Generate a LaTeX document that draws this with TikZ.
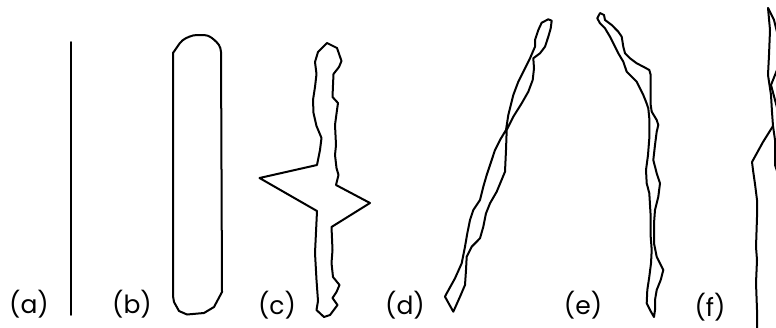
\documentclass[tikz,border=0pt]{standalone}
\usepackage{fontspec}
\setsansfont{Poppins}
\usetikzlibrary{positioning}
\tikzset{
  korv/.style={line width=1pt,line join=round,line cap=round},
  jel/.style={font=\sffamily\fontsize{12.5}{15}\selectfont,inner sep=0pt},
}

\begin{document}
\begin{tikzpicture}[x=0.5pt,y=-0.5pt]
  \clip (0,0) rectangle (776,327);
  % feliratok
  \node[jel] (la) at (29,304) {(a)};
  \node[jel] (lb) at (132,304) {(b)};
  \node[jel] (lc) at (277,305) {(c)};
  \node[jel] (ld) at (405,305) {(d)};
  \node[jel] (le) at (583,305) {(e)};
  \node[jel] (lf) at (710,307) {(f)};
  % (a)
  \draw[korv,line width=0.8pt] (71,42) -- (71,315);
  % (b)
  \draw[korv,rounded corners=2pt] (173,53) -- (182,40) -- (193,35) -- (208,35) -- (217,42) -- (221,48)
    -- (222,292);
  \draw[korv] (222,292) -- (214,307) -- (204,313) -- (187,314.5) -- (179,311) -- (174,302)
    -- (173,296) -- (173,53);
  % (c)
  \draw[korv] (327,43) -- (337,48) -- (341.5,61) -- (339,67) -- (333.5,74) -- (333,85) -- (332.5,97)
    -- (338,103) -- (337,110) -- (335,125) -- (336,145) -- (335,155) -- (336.5,168) -- (338.5,175)
    -- (336,185) -- (370,203) -- (331.5,227) -- (332.5,250) -- (331.5,263) -- (333,277)
    -- (339.5,285) -- (336.5,292) -- (332.5,298) -- (337.5,305) -- (330,315) -- (324,317)
    -- (316.5,310) -- (318,301) -- (316.5,280) -- (315,253) -- (317,211) -- (259.5,178)
    -- (317,165) -- (320,150) -- (321.5,138) -- (316.5,126) -- (313.5,113) -- (313,100)
    -- (315,87) -- (316.5,74) -- (315,62) -- (318,52) -- cycle;
  % (d)
  \draw[korv] (548.3,19.3) -- (541.7,22.7) -- (538.3,30) -- (535,40) -- (535,46.7) -- (530,58.3)
    -- (525,68.3) -- (518.3,81.7) -- (513.3,95) -- (508.3,115) -- (506,130) -- (500,140)
    -- (495,150) -- (491.7,160) -- (486.7,175) -- (483.3,186.7) -- (480,200) -- (473.3,210)
    -- (470,220) -- (467.3,233.3) -- (465,246.7) -- (461.7,263.3) -- (455,278.3) -- (446.7,293.3)
    -- (445,296.7) -- (453.3,311.7) -- (460,296.7) -- (465,285) -- (466,270) -- (466.7,256.7)
    -- (471.7,246.7) -- (480,238.3) -- (483.3,226.7) -- (486,213.3) -- (490,203.3) -- (496.7,191.7)
    -- (505,171.7) -- (506,150) -- (506.7,130) -- (513.3,116.7) -- (521.7,103.3) -- (528.3,91.7)
    -- (532.7,80) -- (534,68.3) -- (533.3,58.3) -- (540,53.3) -- (545,46.7) -- (548.3,36.7)
    -- (550.7,28.3) -- (551.7,20.7) -- cycle;
  % (e)
  \draw[korv] (600,13) -- (604,15) -- (605,20) -- (611.7,25) -- (618.3,31.7) -- (621.7,36.7)
    -- (623.3,46.7) -- (625,53.3) -- (630,58.3) -- (636.7,63.3) -- (643.3,66.7) -- (649.3,70)
    -- (650.7,75) -- (650.7,91.7) -- (650.7,105) -- (651.7,111.7) -- (656.7,120) -- (658.3,125)
    -- (656.7,131.7) -- (655,145) -- (653.3,160) -- (656.7,173.3) -- (660,183.3) -- (658.3,196.7)
    -- (655,210) -- (654,223.3) -- (654,243.3) -- (656.7,256.7) -- (660,263.3) -- (663.3,270)
    -- (660.7,280) -- (656.7,290) -- (655,300) -- (655,310) -- (654,317) -- (650,310)
    -- (646.7,303.3) -- (647.3,290) -- (649.3,276.7) -- (651,263.3) -- (651.7,250) -- (650.7,236.7)
    -- (650.7,216.7) -- (649.3,193.3) -- (646.7,183.3) -- (646,170) -- (648,155) -- (649.3,138.3)
    -- (649.3,118.3) -- (648.3,108.3) -- (646,101.7) -- (643.3,95) -- (640,88.3) -- (636.7,81.7)
    -- (631.7,76.7) -- (626.7,71.7) -- (623.3,61.7) -- (618.3,53.3) -- (615,46.7) -- (610,36.7)
    -- (605,28.3) -- (600,23.3) -- (597.3,18.3) -- cycle;
  % (f), a kep szelen levagva
  \draw[korv] (768,8) -- (770,30) -- (769,55) -- (768,75) -- (771,95) -- (772,112) -- (773,126)
    -- (763,142) -- (752,162) -- (753,170) -- (755,184) -- (757,200) -- (757,217) -- (756,247)
    -- (757,260) -- (756,283) -- (757,310) -- (757,335);
  \draw[korv] (768,8) -- (774,20) -- (779,40) -- (781,60) -- (775,75) -- (771,85) -- (775,100)
    -- (779,115);
  \draw[korv] (773,126) -- (775,140) -- (775,165) -- (780,180);
\end{tikzpicture}
\end{document}
